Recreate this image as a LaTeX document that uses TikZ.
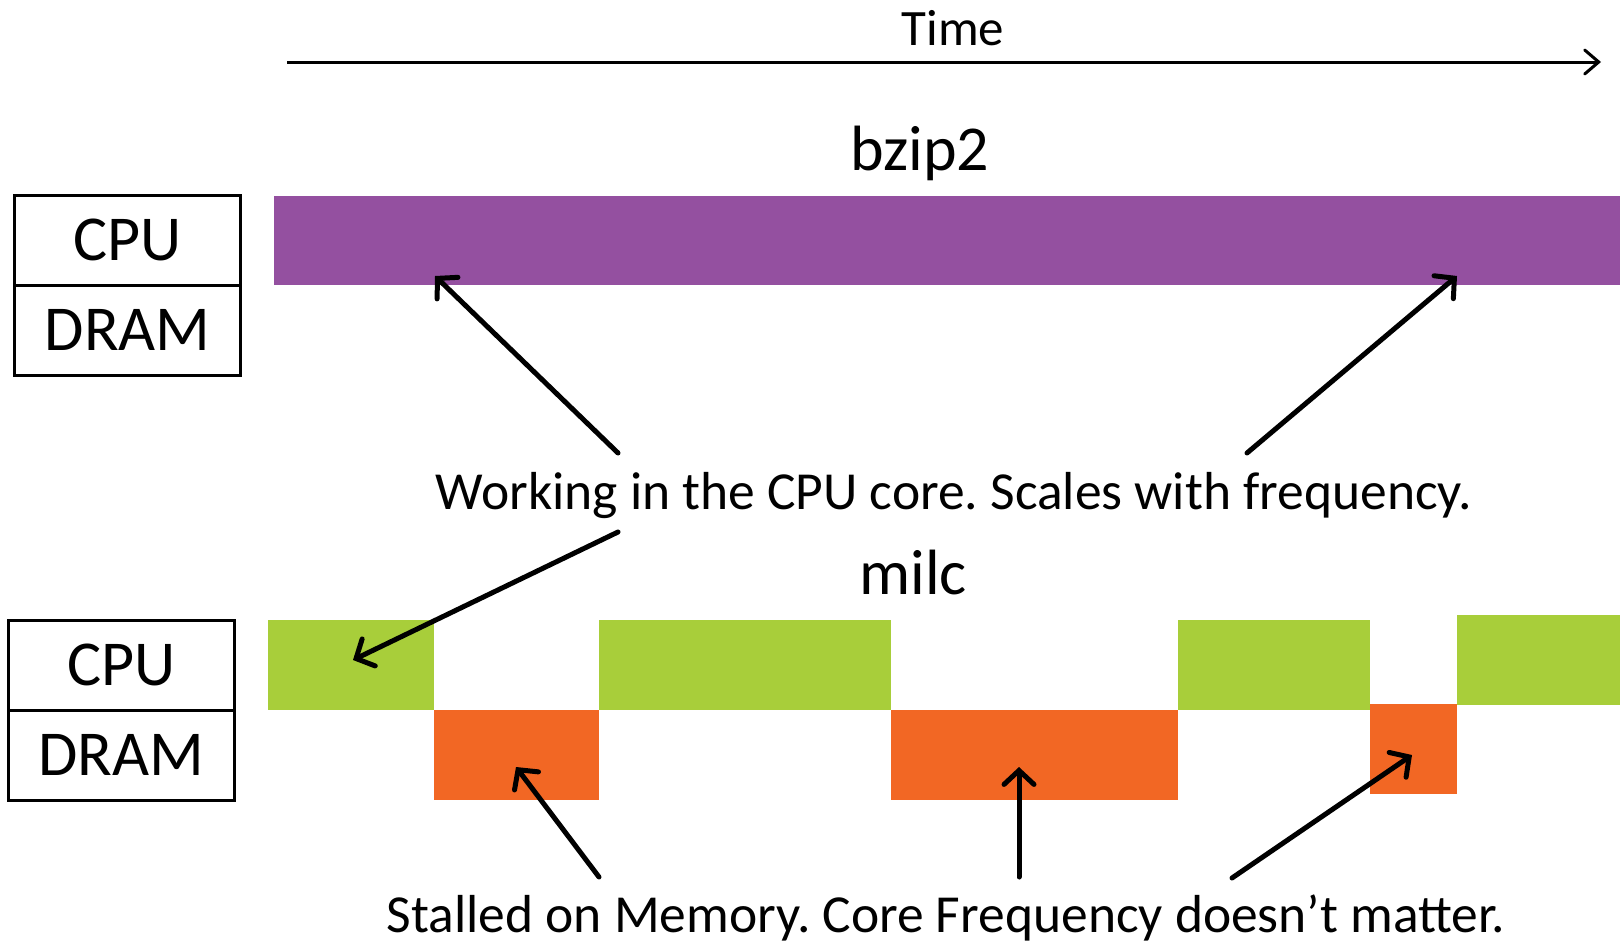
\documentclass[tikz,border=0pt]{standalone}
\usepackage{fontspec}
\setmainfont{Carlito}
\usetikzlibrary{arrows.meta}

\definecolor{cpuviolet}{RGB}{148,80,160}
\definecolor{cpugreen}{RGB}{168,206,58}
\definecolor{memorange}{RGB}{242,103,36}

\tikzset{
  legendcell/.style={draw=black, line width=3pt, minimum width=226pt,
    minimum height=90pt, inner sep=0pt,
    font=\fontsize{64}{70}\selectfont},
  caption/.style={anchor=base, inner sep=0pt, font=\fontsize{53.5}{60}\selectfont},
  title/.style={anchor=base, inner sep=0pt, font=\fontsize{64}{70}\selectfont},
  pointer/.style={line width=5pt, line cap=round, line join=round,
    -{Straight Barb[length=14pt, width=30pt, line cap=round]}}
}

\begin{document}
\frenchspacing
\begin{tikzpicture}[x=1pt, y=-1pt]
\useasboundingbox (0,0) rectangle (1620,943);

% time axis
\node[anchor=base, inner sep=0pt, font=\fontsize{51}{56}\selectfont] (time) at (953,45) {Time};
\coordinate (t0) at (287,62);
\coordinate (t1) at (1601,62);
\draw[line width=3pt, -{Straight Barb[length=14pt, width=24pt, line cap=round]}] (t0) -- (t1);

% ---- bzip2 ----
\node[title] (bzip) at (920,170) {bzip2};
\node[legendcell] (cpuA) at (127.6,240) {CPU};
\node[legendcell] (dramA) at (127.6,330) {DRAM};
\fill[cpuviolet] (274,196) rectangle (1620,285);
\coordinate (bzL) at (435,276);
\coordinate (bzR) at (1457,276);

% ---- milc ----
\node[title] (milc) at (913,594) {milc};
\node[legendcell] (cpuB) at (121.4,665) {CPU};
\node[legendcell] (dramB) at (121.4,755) {DRAM};
\fill[cpugreen] (268,620) rectangle (434,710);
\fill[memorange] (434,710) rectangle (599,800);
\fill[cpugreen] (599,620) rectangle (891,710);
\fill[memorange] (891,710) rectangle (1178,800);
\fill[cpugreen] (1178,620) rectangle (1370,710);
\fill[memorange] (1370,704) rectangle (1457,794);
\fill[cpugreen] (1457,615) rectangle (1620,705);
\coordinate (mcG) at (353,660);
\coordinate (mcO1) at (516,767);
\coordinate (mcO2) at (1019,767);
\coordinate (mcO3) at (1412,755);

% captions
\node[caption] (work) at (954,509) {Working in the CPU core. Scales with frequency.};
\node[caption] (stall) at (946,932) {Stalled on Memory. Core Frequency doesn’t matter.};

\coordinate (w1) at (618,453);
\coordinate (w2) at (1247,453);
\coordinate (w3) at (618,532);
\coordinate (s1) at (599,877);
\coordinate (s2) at (1019,877);
\coordinate (s3) at (1232,878);

\draw[pointer] (w1) -- (bzL);
\draw[pointer] (w2) -- (bzR);
\draw[pointer] (w3) -- (mcG);
\draw[pointer] (s1) -- (mcO1);
\draw[pointer] (s2) -- (mcO2);
\draw[pointer] (s3) -- (mcO3);
\end{tikzpicture}
\end{document}
